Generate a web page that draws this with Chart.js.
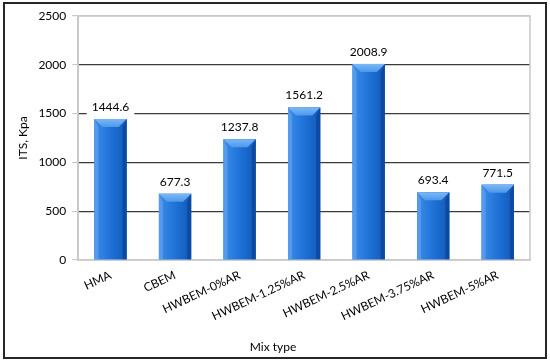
<!DOCTYPE html>
<html>
<head>
<meta charset="utf-8">
<script src="https://cdn.jsdelivr.net/npm/chart.js@4"></script>
<style>
  html, body { margin: 0; padding: 0; background: #fff; }
  canvas { display: block; }
</style>
</head>
<body>
<canvas id="its-chart" width="550" height="361"></canvas>
<script>
// data
const categories = ['HMA', 'CBEM', 'HWBEM-0%AR', 'HWBEM-1.25%AR', 'HWBEM-2.5%AR', 'HWBEM-3.75%AR', 'HWBEM-5%AR'];
const itsValues = [1444.6, 677.3, 1237.8, 1561.2, 2008.9, 693.4, 771.5];
const yTicks = [0, 500, 1000, 1500, 2000, 2500];

const FONT = 'Lato, "Open Sans", sans-serif';
const LIGHT = '#c9c9c9';

// bars drawn with a bevel, like the Excel original
const bevelBars = {
  id: 'bevelBars',
  afterDatasetsDraw(chart) {
    const ctx = chart.ctx;
    chart.getDatasetMeta(0).data.forEach((bar) => {
      const w = bar.width;
      const l = bar.x - w / 2, r = bar.x + w / 2;
      const t = bar.y, b = bar.base;
      const bv = Math.min(8, (b - t) / 2);
      ctx.save();
      // body
      const g = ctx.createLinearGradient(l, 0, r, 0);
      g.addColorStop(0, '#3b8ce8');
      g.addColorStop(0.5, '#1f72d8');
      g.addColorStop(1, '#1258b6');
      ctx.fillStyle = g;
      ctx.fillRect(l, t, w, b - t);
      // top bevel
      const gt = ctx.createLinearGradient(0, t, 0, t + bv);
      gt.addColorStop(0, '#7bb8f5');
      gt.addColorStop(1, '#4c98ec');
      ctx.fillStyle = gt;
      ctx.beginPath();
      ctx.moveTo(l, t); ctx.lineTo(r, t);
      ctx.lineTo(r - bv, t + bv); ctx.lineTo(l + bv, t + bv);
      ctx.closePath(); ctx.fill();
      // left bevel
      ctx.fillStyle = 'rgba(110,170,240,0.55)';
      ctx.beginPath();
      ctx.moveTo(l, t); ctx.lineTo(l + bv * 0.5, t + bv);
      ctx.lineTo(l + bv * 0.5, b); ctx.lineTo(l, b);
      ctx.closePath(); ctx.fill();
      // right bevel
      ctx.fillStyle = 'rgba(8,60,140,0.55)';
      ctx.beginPath();
      ctx.moveTo(r, t); ctx.lineTo(r - bv * 0.5, t + bv);
      ctx.lineTo(r - bv * 0.5, b); ctx.lineTo(r, b);
      ctx.closePath(); ctx.fill();
      ctx.restore();
    });
  }
};

// value labels on white boxes above each bar
const valueLabels = {
  id: 'valueLabels',
  afterDatasetsDraw(chart) {
    const ctx = chart.ctx;
    const data = chart.data.datasets[0].data;
    ctx.save();
    ctx.font = '12px ' + FONT;
    ctx.textAlign = 'center';
    ctx.textBaseline = 'middle';
    chart.getDatasetMeta(0).data.forEach((bar, i) => {
      const txt = data[i].toFixed(1);
      const tw = ctx.measureText(txt).width;
      const cy = bar.y - 12;
      ctx.fillStyle = '#fff';
      ctx.fillRect(bar.x - tw / 2 - 5, cy - 8, tw + 10, 16);
      ctx.fillStyle = '#000';
      ctx.fillText(txt, bar.x, cy);
    });
    ctx.restore();
  }
};

// plot area frame + outer border
const frames = {
  id: 'frames',
  beforeDatasetsDraw(chart) {
    const { ctx, chartArea: a } = chart;
    ctx.save();
    ctx.strokeStyle = LIGHT;
    ctx.lineWidth = 1.5;
    ctx.strokeRect(a.left, a.top, a.right - a.left, a.bottom - a.top);
    ctx.restore();
  },
  afterDraw(chart) {
    const ctx = chart.ctx;
    ctx.save();
    ctx.strokeStyle = '#262626';
    ctx.lineWidth = 2;
    ctx.strokeRect(4, 3, chart.width - 8, chart.height - 6);
    ctx.restore();
  }
};

new Chart(document.getElementById('its-chart'), {
  type: 'bar',
  data: {
    labels: categories,
    datasets: [{
      data: itsValues,
      backgroundColor: '#1f72d8',
      barPercentage: 0.5,
      categoryPercentage: 1.0,
    }],
  },
  options: {
    responsive: false,
    animation: false,
    layout: { padding: { left: 16, top: 16, right: 20, bottom: 7 } },
    plugins: {
      legend: { display: false },
      tooltip: { enabled: false },
      title: {
        display: true,
        position: 'bottom',
        text: 'Mix type',
        color: '#000',
        font: { family: FONT, size: 12, weight: 'normal' },
        padding: { top: 8, bottom: 0 },
      },
    },
    scales: {
      x: {
        grid: { display: false, drawTicks: false },
        border: { color: LIGHT, width: 1.5 },
        ticks: {
          color: '#000',
          font: { family: FONT, size: 12 },
          minRotation: 25,
          maxRotation: 25,
          autoSkip: false,
          padding: 8,
        },
      },
      y: {
        min: 0,
        max: 2500,
        afterBuildTicks: (scale) => { scale.ticks = yTicks.map((v) => ({ value: v })); },
        grid: {
          color: (c) => (c.tick && (c.tick.value === 0 || c.tick.value === 2500) ? LIGHT : '#3a3a3a'),
          lineWidth: 1.2,
          tickLength: 6,
          tickColor: LIGHT,
        },
        border: { color: LIGHT, width: 1.5 },
        ticks: {
          color: '#000',
          font: { family: FONT, size: 12 },
          padding: 6,
          callback: (v) => String(v),
        },
        title: {
          display: true,
          text: 'ITS, Kpa',
          color: '#000',
          font: { family: FONT, size: 12 },
          padding: { top: 0, bottom: 2 },
        },
      },
    },
  },
  plugins: [frames, bevelBars, valueLabels],
});
</script>
</body>
</html>
